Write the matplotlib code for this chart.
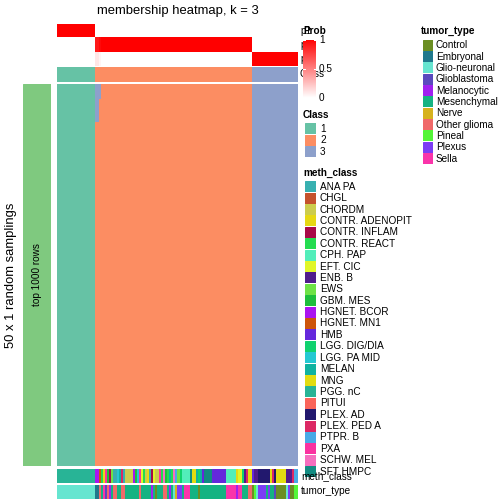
import numpy as np
import matplotlib
matplotlib.use("Agg")
import matplotlib.pyplot as plt
from matplotlib.colors import LinearSegmentedColormap, to_rgb

plt.rcParams["font.family"] = ["Liberation Sans", "DejaVu Sans"]

W = H = 504

# ---- data -------------------------------------------------------------
class_ids = [1, 2, 3]
class_counts = [19, 78, 23]
class_colors = {1: "#66C2A5", 2: "#FC8D62", 3: "#8DA0CB"}
n_samplings = 50

# class 2 columns that went to class 3 in some samplings
flip_cols = [0, 1, 2]
flip_rows = [5, 5, 2]
flip_p2 = [0.90, 0.90, 0.96]
flip_p3 = [0.10, 0.10, 0.04]

tumor_types = ["Control", "Embryonal", "Glio-neuronal", "Glioblastoma",
               "Melanocytic", "Mesenchymal", "Nerve", "Other glioma",
               "Pineal", "Plexus", "Sella"]
tumor_colors = ["#6B8E23", "#1F788C", "#66E5D0", "#5A4ABE", "#A020F0",
                "#15B382", "#D6B21E", "#F06969", "#54F538", "#7C3DF5",
                "#FA34AA"]

meth_classes = ["ANA PA", "CHGL", "CHORDM", "CONTR. ADENOPIT", "CONTR. INFLAM",
                "CONTR. REACT", "CPH. PAP", "EFT. CIC", "ENB. B", "EWS",
                "GBM. MES", "HGNET. BCOR", "HGNET. MN1", "HMB", "LGG. DIG/DIA",
                "LGG. PA MID", "MELAN", "MNG", "PGG. nC", "PITUI", "PLEX. AD",
                "PLEX. PED A", "PTPR. B", "PXA", "SCHW. MEL", "SFT HMPC"]
meth_colors = ["#38B0B0", "#C4522C", "#CCCC4D", "#E6D814", "#A80A48",
               "#24DC50", "#52EEBA", "#E0F628", "#501C8C", "#6EE246",
               "#1EBE3C", "#AA14F0", "#CD550A", "#6428DC", "#10D26E",
               "#24C8D2", "#10B2A0", "#E2DC10", "#28B496", "#FA645A",
               "#22186E", "#DC2864", "#48AAE6", "#FA32A0", "#F56EBE",
               "#128C82"]

meth_c1 = ["PGG. nC"] * 19
meth_c2 = (["HGNET. BCOR"] * 2
           + ["HGNET. MN1", "CONTR. REACT", "CONTR. ADENOPIT", "PXA", "GBM. MES",
              "CONTR. INFLAM", "EWS"]
           + ["ANA PA"] * 2
           + ["LGG. PA MID", "MELAN", "PLEX. PED A", "ANA PA"]
           + ["CHORDM"] * 4
           + ["HGNET. BCOR", "GBM. MES", "LGG. PA MID"]
           + ["PXA", "EFT. CIC", "CONTR. REACT", "CHORDM", "CONTR. ADENOPIT",
              "ANA PA", "CONTR. INFLAM", "EFT. CIC", "CHORDM", "CHORDM", "PXA",
              "CONTR. REACT", "SCHW. MEL", "GBM. MES", "CONTR. REACT", "MELAN",
              "CONTR. REACT", "SCHW. MEL", "PTPR. B", "EWS", "LGG. DIG/DIA"]
           + ["CPH. PAP"] * 4
           + ["SFT HMPC", "MNG", "MNG", "MELAN", "LGG. DIG/DIA", "MELAN", "HMB"]
           + ["SFT HMPC"] * 4
           + ["HMB"] * 7
           + ["CPH. PAP"] * 5
           + ["CONTR. ADENOPIT", "EFT. CIC", "EFT. CIC", "LGG. DIG/DIA",
              "ENB. B", "PLEX. PED A", "MNG", "MNG"])
meth_c3 = (["HMB"] + ["ENB. B"] * 2 + ["PLEX. AD"] * 6
           + ["MNG", "PLEX. PED A", "PLEX. AD"] + ["MNG"] * 5
           + ["ENB. B"] * 3 + ["PLEX. PED A"] + ["PTPR. B"] * 2)

tumor_c1 = ["Glio-neuronal"] * 19
tumor_c2 = (["Embryonal"] * 2
            + ["Other glioma", "Mesenchymal", "Sella", "Glioblastoma",
               "Other glioma", "Melanocytic", "Mesenchymal"]
            + ["Other glioma"] * 2 + ["Mesenchymal"] * 2
            + ["Other glioma"] * 2 + ["Mesenchymal"] * 7
            + ["Other glioma"] + ["Mesenchymal"] * 5
            + ["Melanocytic", "Mesenchymal", "Control"]
            + ["Mesenchymal"] * 3 + ["Other glioma"] * 2
            + ["Mesenchymal", "Melanocytic", "Mesenchymal", "Glio-neuronal", "Nerve"]
            + ["Plexus"] * 2 + ["Mesenchymal"] + ["Sella"] * 3
            + ["Mesenchymal"] * 4 + ["Control"] + ["Mesenchymal"] * 13
            + ["Sella"] * 5 + ["Melanocytic"] + ["Sella"] * 2
            + ["Mesenchymal"] * 3 + ["Other glioma"] * 2)
tumor_c3 = (["Control", "Pineal", "Glio-neuronal"] + ["Plexus"] * 4
            + ["Mesenchymal", "Plexus", "Mesenchymal", "Mesenchymal", "Glioblastoma"]
            + ["Control"] * 5 + ["Glio-neuronal", "Plexus"]
            + ["Control"] * 2 + ["Pineal"] * 2)

# ---- build matrices ----------------------------------------------------
cls = np.repeat(class_ids, class_counts)
n = len(cls)
start2 = class_counts[0]

prob = np.zeros((3, n))
for k in range(3):
    prob[k, cls == class_ids[k]] = 1.0
for c, p2, p3 in zip(flip_cols, flip_p2, flip_p3):
    prob[1, start2 + c] = p2
    prob[2, start2 + c] = p3

member = np.tile(cls, (n_samplings, 1))
for c, r in zip(flip_cols, flip_rows):
    member[:r, start2 + c] = 3


def rgb_row(labels, names, colors):
    lut = dict(zip(names, colors))
    return np.array([[to_rgb(lut[v]) for v in labels]])


cls_rgb = {k: to_rgb(v) for k, v in class_colors.items()}
member_rgb = np.array([[cls_rgb[v] for v in row] for row in member])
class_rgb = np.array([[cls_rgb[v] for v in cls]])
meth_rgb = rgb_row(meth_c1 + meth_c2 + meth_c3, meth_classes, meth_colors)
tumor_rgb = rgb_row(tumor_c1 + tumor_c2 + tumor_c3, tumor_types, tumor_colors)

prob_cmap = LinearSegmentedColormap.from_list("prob", ["white", "red"])

# ---- figure -----------------------------------------------------------
fig = plt.figure(figsize=(7, 7), dpi=72)


def px_axes(x0, y0, x1, y1, z=0):
    ax = fig.add_axes([x0 / W, 1 - y1 / H, (x1 - x0) / W, (y1 - y0) / H])
    ax.set_axis_off()
    ax.set_zorder(z)
    return ax


def px_text(x, y, s, **kw):
    fig.text(x / W, 1 - y / H, s, **kw)


hx0, hx1 = 57, 298

ax = px_axes(hx0, 24, hx1, 66.3)
ax.imshow(prob, cmap=prob_cmap, vmin=0, vmax=1, aspect="auto",
          interpolation="nearest")

ax = px_axes(hx0, 67, hx1, 81.7)
ax.imshow(class_rgb, aspect="auto", interpolation="nearest")

ax = px_axes(hx0, 84, hx1, 466)
ax.imshow(member_rgb, aspect="auto", interpolation="nearest")

ax = px_axes(hx0, 469, hx1, 483)
ax.imshow(meth_rgb, aspect="auto", interpolation="nearest")

ax = px_axes(hx0, 484.5, hx1, 499)
ax.imshow(tumor_rgb, aspect="auto", interpolation="nearest")

# left split bar
ax = px_axes(23, 84, 51, 466)
ax.add_patch(plt.Rectangle((0, 0), 1, 1, color="#7FC97F"))
ax.set_xlim(0, 1)
ax.set_ylim(0, 1)
px_text(37, 275, "top 1000 rows", rotation=90, fontsize=10,
        ha="center", va="center")
px_text(11, 275, "50 x 1 random samplings", rotation=90, fontsize=13,
        ha="center", va="center")

px_text((hx0 + hx1) / 2, 11, "membership heatmap, k = 3", fontsize=13,
        ha="center", va="center")

# annotation names (partly hidden under the legend, as in the original)
for y, s in zip([31, 45, 59, 74], ["p1", "p2", "p3", "Class"]):
    px_text(300, y, s, fontsize=10, va="center")
px_text(301, 476, "meth_class", fontsize=10, va="center")
px_text(301, 491.5, "tumor_type", fontsize=10, va="center")

# ---- legends ----------------------------------------------------------
lx = 303
px_text(lx, 31, "Prob", fontsize=10, fontweight="bold", va="center")
ax = px_axes(lx, 40, lx + 13, 98, z=5)
ax.imshow(np.linspace(1, 0, 100)[:, None], cmap=prob_cmap, vmin=0, vmax=1,
          aspect="auto", extent=(0, 1, 0, 1))
ax.set_xlim(0, 1)
ax.set_ylim(0, 1)
for v in [0, 0.5, 1]:
    ax.plot([0, 0.18], [v, v], color="white", lw=1)
    ax.plot([0.82, 1], [v, v], color="white", lw=1)
for v, s in zip([0, 0.5, 1], ["0", "0.5", "1"]):
    px_text(lx + 16, 98 - 58 * v, s, fontsize=10, va="center")

px_text(lx, 115, "Class", fontsize=10, fontweight="bold", va="center")
for i, k in enumerate(class_ids):
    y = 129 + 11.4 * i
    ax = px_axes(lx + 2, y - 5.5, lx + 13, y + 5.5)
    ax.add_patch(plt.Rectangle((0, 0), 1, 1, color=class_colors[k]))
    px_text(lx + 17, y, str(k), fontsize=10, va="center")

px_text(lx, 173, "meth_class", fontsize=10, fontweight="bold", va="center")
for i, (s, c) in enumerate(zip(meth_classes, meth_colors)):
    y = 186.7 + 11.4 * i
    ax = px_axes(lx + 2, y - 5.5, lx + 13, y + 5.5)
    ax.add_patch(plt.Rectangle((0, 0), 1, 1, color=c))
    px_text(lx + 17, y, s, fontsize=10, va="center")

tx = 421
px_text(tx, 31, "tumor_type", fontsize=10, fontweight="bold", va="center")
for i, (s, c) in enumerate(zip(tumor_types, tumor_colors)):
    y = 45.3 + 11.33 * i
    ax = px_axes(tx + 2, y - 5.5, tx + 12, y + 5.5)
    ax.add_patch(plt.Rectangle((0, 0), 1, 1, color=c))
    px_text(tx + 15, y, s, fontsize=10, va="center")

fig.savefig("out.png", dpi=72)
plt.close(fig)
